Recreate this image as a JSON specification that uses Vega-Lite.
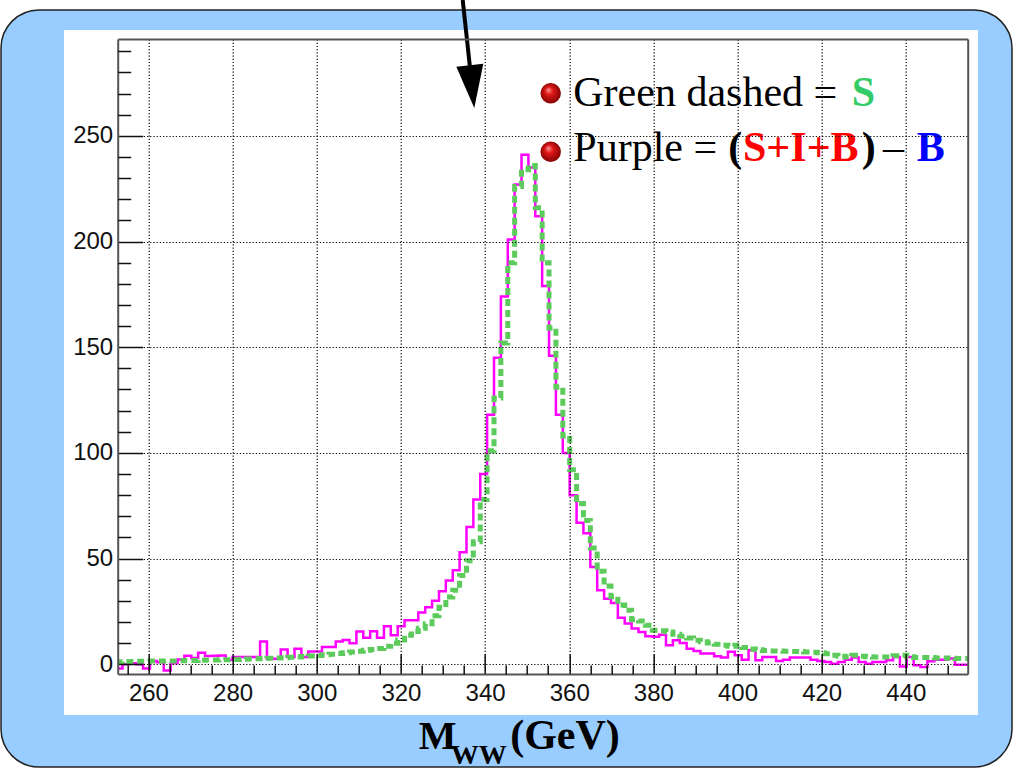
{
  "$schema": "https://vega.github.io/schema/vega-lite/v6.json",
  "width": 850,
  "height": 635,
  "autosize": {"type": "none"},
  "padding": {"left": 117.7, "top": 39, "right": 45.3, "bottom": 95},
  "background": "white",
  "config": {
    "view": {"stroke": null},
    "axis": {
      "labelFont": "Liberation Sans",
      "labelFontSize": 24,
      "labelColor": "#111111",
      "labelFlush": false,
      "labelOverlap": false,
      "tickColor": "#111111",
      "tickWidth": 1.5,
      "domainColor": "#555555",
      "domainWidth": 2,
      "gridColor": "#000000",
      "gridDash": [1.2, 2],
      "gridWidth": 1.2,
      "gridOpacity": 1,
      "titleFont": "Liberation Serif",
      "titleFontWeight": "bold",
      "titleColor": "#000000",
      "titleAlign": "left",
      "titleBaseline": "alphabetic",
      "titleAngle": 0
    }
  },
  "resolve": {"axis": {"x": "independent", "y": "independent"}},
  "datasets": {
    "outer": [{"x1": 224.97, "x2": 465.23, "y1": 309.52, "y2": -48.6}],
    "inner": [{"x1": 239.94, "x2": 457.15, "y1": 300.06, "y2": -24.0}],
    "arrow": [{"x1": 334.69, "y1": 314.25, "x2": 336.38, "y2": 283.03, "hx": 336.91, "hy": 273.28}],
    "legend": [
      {"item": "S", "gev": 360.97, "n": 264.1, "bgev": 355.6, "bn": 270.1},
      {"item": "D", "gev": 360.97, "n": 238.3, "bgev": 355.6, "bn": 242.5}
    ],
    "hist": [
      {"x": 252.20, "purple": -2, "green": 1.2},
      {"x": 253.84, "purple": 0, "green": 1.3},
      {"x": 255.47, "purple": 0.5, "green": 1.3},
      {"x": 257.11, "purple": 0, "green": 1.4},
      {"x": 258.74, "purple": -2, "green": 1.4},
      {"x": 260.38, "purple": 1.5, "green": 1.5},
      {"x": 262.01, "purple": 1, "green": 1.5},
      {"x": 263.65, "purple": -3, "green": 1.6},
      {"x": 265.28, "purple": 0.5, "green": 1.6},
      {"x": 266.92, "purple": 2.3, "green": 1.7},
      {"x": 268.55, "purple": 4, "green": 1.8},
      {"x": 270.19, "purple": 3, "green": 1.8},
      {"x": 271.82, "purple": 5.4, "green": 1.9},
      {"x": 273.46, "purple": 3.9, "green": 2.0},
      {"x": 275.09, "purple": 4, "green": 2.0},
      {"x": 276.73, "purple": 4.2, "green": 2.1},
      {"x": 278.36, "purple": 2, "green": 2.2},
      {"x": 280.00, "purple": 3.5, "green": 2.3},
      {"x": 281.63, "purple": 3.5, "green": 2.4},
      {"x": 283.27, "purple": 3.5, "green": 2.5},
      {"x": 284.90, "purple": 3.5, "green": 2.6},
      {"x": 286.54, "purple": 10.8, "green": 2.7},
      {"x": 288.17, "purple": 2.6, "green": 2.8},
      {"x": 289.81, "purple": 2.6, "green": 3.0},
      {"x": 291.44, "purple": 7, "green": 3.1},
      {"x": 293.08, "purple": 3.5, "green": 3.3},
      {"x": 294.71, "purple": 7.4, "green": 3.5},
      {"x": 296.35, "purple": 3.5, "green": 3.7},
      {"x": 297.98, "purple": 6, "green": 3.9},
      {"x": 299.62, "purple": 6, "green": 4.2},
      {"x": 301.25, "purple": 8.2, "green": 4.5},
      {"x": 302.89, "purple": 8.2, "green": 4.8},
      {"x": 304.52, "purple": 10.8, "green": 5.1},
      {"x": 306.16, "purple": 11.5, "green": 5.4},
      {"x": 307.79, "purple": 10, "green": 5.8},
      {"x": 309.43, "purple": 15.5, "green": 6.2},
      {"x": 311.06, "purple": 12.6, "green": 6.6},
      {"x": 312.70, "purple": 15.6, "green": 7.0},
      {"x": 314.33, "purple": 12.6, "green": 7.5},
      {"x": 315.97, "purple": 18, "green": 8.5},
      {"x": 317.60, "purple": 13.7, "green": 10.0},
      {"x": 319.24, "purple": 18, "green": 11.5},
      {"x": 320.87, "purple": 20.8, "green": 13.7},
      {"x": 322.51, "purple": 20.8, "green": 15.5},
      {"x": 324.14, "purple": 24.5, "green": 17},
      {"x": 325.78, "purple": 27, "green": 19.2},
      {"x": 327.41, "purple": 30, "green": 23},
      {"x": 329.05, "purple": 34.5, "green": 27},
      {"x": 330.68, "purple": 39.6, "green": 31.8},
      {"x": 332.32, "purple": 44.5, "green": 35},
      {"x": 333.95, "purple": 53, "green": 42},
      {"x": 335.59, "purple": 65, "green": 49},
      {"x": 337.22, "purple": 78, "green": 58},
      {"x": 338.86, "purple": 90, "green": 78},
      {"x": 340.49, "purple": 118, "green": 101},
      {"x": 342.13, "purple": 145, "green": 126},
      {"x": 343.76, "purple": 174, "green": 152},
      {"x": 345.40, "purple": 201, "green": 190},
      {"x": 347.03, "purple": 227, "green": 226},
      {"x": 348.67, "purple": 241, "green": 234},
      {"x": 350.30, "purple": 235, "green": 236},
      {"x": 351.94, "purple": 212, "green": 216},
      {"x": 353.57, "purple": 179, "green": 190},
      {"x": 355.21, "purple": 146, "green": 159},
      {"x": 356.84, "purple": 118, "green": 131},
      {"x": 358.48, "purple": 100, "green": 108},
      {"x": 360.11, "purple": 80, "green": 92},
      {"x": 361.75, "purple": 67, "green": 76},
      {"x": 363.38, "purple": 62, "green": 68},
      {"x": 365.02, "purple": 46, "green": 55},
      {"x": 366.65, "purple": 35, "green": 44},
      {"x": 368.29, "purple": 31, "green": 37},
      {"x": 369.92, "purple": 29, "green": 32},
      {"x": 371.56, "purple": 22, "green": 28},
      {"x": 373.19, "purple": 19.3, "green": 25.6},
      {"x": 374.83, "purple": 16.9, "green": 21.1},
      {"x": 376.46, "purple": 15.3, "green": 20.5},
      {"x": 378.10, "purple": 13.3, "green": 18.5},
      {"x": 379.73, "purple": 13, "green": 16.1},
      {"x": 381.37, "purple": 14, "green": 15.9},
      {"x": 383.00, "purple": 9, "green": 15.3},
      {"x": 384.64, "purple": 11.4, "green": 14.2},
      {"x": 386.27, "purple": 10.1, "green": 13.3},
      {"x": 387.91, "purple": 7.4, "green": 12.4},
      {"x": 389.54, "purple": 6.3, "green": 11.4},
      {"x": 391.18, "purple": 5.1, "green": 10.6},
      {"x": 392.81, "purple": 5.1, "green": 10.1},
      {"x": 394.45, "purple": 3.8, "green": 9.5},
      {"x": 396.08, "purple": 3.2, "green": 9.0},
      {"x": 397.72, "purple": 5.9, "green": 8.5},
      {"x": 399.35, "purple": 4.3, "green": 9.0},
      {"x": 400.99, "purple": 2.2, "green": 7.9},
      {"x": 402.62, "purple": 6.6, "green": 7.2},
      {"x": 404.26, "purple": 1.9, "green": 6.9},
      {"x": 405.89, "purple": 3.5, "green": 6.5},
      {"x": 407.53, "purple": 3.5, "green": 6.3},
      {"x": 409.16, "purple": 1.6, "green": 6.3},
      {"x": 410.80, "purple": 2.2, "green": 6.2},
      {"x": 412.43, "purple": 3.2, "green": 6.1},
      {"x": 414.07, "purple": 3.2, "green": 6.0},
      {"x": 415.70, "purple": 3.2, "green": 5.8},
      {"x": 417.34, "purple": 2.2, "green": 5.7},
      {"x": 418.97, "purple": 1.6, "green": 5.4},
      {"x": 420.61, "purple": 1.1, "green": 5.0},
      {"x": 422.24, "purple": 0.3, "green": 4.3},
      {"x": 423.88, "purple": 1.1, "green": 3.8},
      {"x": 425.51, "purple": 2.2, "green": 3.5},
      {"x": 427.15, "purple": 3.2, "green": 4.3},
      {"x": 428.78, "purple": 1.1, "green": 3.8},
      {"x": 430.42, "purple": 0.3, "green": 3.6},
      {"x": 432.05, "purple": 1.1, "green": 3.5},
      {"x": 433.69, "purple": 1.1, "green": 3.5},
      {"x": 435.32, "purple": 1.9, "green": 3.5},
      {"x": 436.96, "purple": 3.5, "green": 4.0},
      {"x": 438.59, "purple": -1, "green": 4.3},
      {"x": 440.23, "purple": 3.5, "green": 3.6},
      {"x": 441.86, "purple": -0.5, "green": 3.2},
      {"x": 443.50, "purple": -1.3, "green": 3.2},
      {"x": 445.13, "purple": 1.4, "green": 3.2},
      {"x": 446.77, "purple": 2.2, "green": 3.0},
      {"x": 448.40, "purple": 2.2, "green": 3.0},
      {"x": 450.04, "purple": 2.7, "green": 2.8},
      {"x": 451.67, "purple": -0.2, "green": 2.7},
      {"x": 453.31, "purple": -0.2, "green": 2.7},
      {"x": 454.94, "purple": -0.2, "green": 2.7}
    ]
  },
  "layer": [
    {
      "data": {"name": "outer"},
      "mark": {"type": "rect", "fill": "#99ccff", "stroke": "#222222", "strokeWidth": 1.5, "cornerRadius": 38, "clip": false},
      "encoding": {
        "x": {"field": "x1", "type": "quantitative", "scale": {"domain": [252.7, 454.7], "nice": false, "zero": false},
              "axis": {"orient": "top", "zindex": 1, "domain": true, "ticks": false, "labels": false, "grid": false, "title": null}},
        "x2": {"field": "x2"},
        "y": {"field": "y1", "type": "quantitative", "scale": {"domain": [-4.6, 295.8], "nice": false, "zero": false},
              "axis": {"orient": "right", "zindex": 1, "domain": true, "ticks": false, "labels": false, "grid": false, "title": null}},
        "y2": {"field": "y2"}
      }
    },
    {
      "data": {"name": "inner"},
      "mark": {"type": "rect", "fill": "#ffffff", "clip": false},
      "encoding": {
        "x": {"field": "x1", "type": "quantitative", "scale": {"domain": [252.7, 454.7], "nice": false, "zero": false},
              "axis": {"orient": "bottom", "zindex": 1, "domain": false, "ticks": false, "labels": false, "grid": false,
                       "title": "(GeV)", "titleFontSize": 42, "titleX": 392, "titleY": 74.5}},
        "x2": {"field": "x2"},
        "y": {"field": "y1", "type": "quantitative", "scale": {"domain": [-4.6, 295.8], "nice": false, "zero": false}, "axis": null},
        "y2": {"field": "y2"}
      }
    },
    {
      "data": {"name": "hist"},
      "mark": {"type": "line", "interpolate": "step-after", "color": "#ff00ff", "strokeWidth": 2.5, "clip": true},
      "encoding": {
        "x": {"field": "x", "type": "quantitative", "scale": {"domain": [252.7, 454.7], "nice": false, "zero": false},
              "axis": {"orient": "bottom", "zindex": 1, "values": [260, 280, 300, 320, 340, 360, 380, 400, 420, 440], "tickSize": -20,
                       "labelPadding": 27, "grid": true, "domain": true,
                       "title": "M", "titleFontSize": 40, "titleX": 300.5, "titleY": 74.5}},
        "y": {"field": "purple", "type": "quantitative", "scale": {"domain": [-4.6, 295.8], "nice": false, "zero": false},
              "axis": {"orient": "left", "zindex": 1, "values": [0, 50, 100, 150, 200, 250], "tickSize": -25, "labelPadding": 30,
                       "grid": true, "domain": true, "title": null}}
      }
    },
    {
      "data": {"name": "hist"},
      "mark": {"type": "line", "interpolate": "step-after", "color": "#5ccb5c", "strokeWidth": 5, "strokeDash": [7, 4], "clip": true},
      "encoding": {
        "x": {"field": "x", "type": "quantitative", "scale": {"domain": [252.7, 454.7], "nice": false, "zero": false},
              "axis": {"orient": "bottom", "zindex": 1, "values": [255, 265, 270, 275, 285, 290, 295, 305, 310, 315, 325, 330, 335, 345, 350, 355, 365, 370, 375, 385, 390, 395, 405, 410, 415, 425, 430, 435, 445, 450],
                       "tickSize": -9, "labels": false, "grid": false, "domain": false,
                       "title": "WW", "titleFontSize": 28, "titleX": 332.5, "titleY": 89.5}},
        "y": {"field": "green", "type": "quantitative", "scale": {"domain": [-4.6, 295.8], "nice": false, "zero": false},
              "axis": {"orient": "left", "zindex": 1, "values": [10, 20, 30, 40, 60, 70, 80, 90, 110, 120, 130, 140, 160, 170, 180, 190, 210, 220, 230, 240, 260, 270, 280, 290],
                       "tickSize": -13, "labels": false, "grid": false, "domain": false, "title": null}}
      }
    },
    {
      "data": {"name": "arrow"},
      "mark": {"type": "rule", "color": "#000000", "strokeWidth": 4, "clip": false},
      "encoding": {
        "x": {"field": "x1", "type": "quantitative", "scale": {"domain": [252.7, 454.7], "nice": false, "zero": false}, "axis": null},
        "x2": {"field": "x2"},
        "y": {"field": "y1", "type": "quantitative", "scale": {"domain": [-4.6, 295.8], "nice": false, "zero": false}, "axis": null},
        "y2": {"field": "y2"}
      }
    },
    {
      "data": {"name": "arrow"},
      "mark": {"type": "point", "shape": "M -0.63 -1 L 0.63 -1 L 0 1 Z", "size": 1849, "angle": -6, "filled": true, "color": "#000000", "opacity": 1, "clip": false},
      "encoding": {
        "x": {"field": "hx", "type": "quantitative", "scale": {"domain": [252.7, 454.7], "nice": false, "zero": false}, "axis": null},
        "y": {"field": "hy", "type": "quantitative", "scale": {"domain": [-4.6, 295.8], "nice": false, "zero": false}, "axis": null}
      }
    },
    {
      "data": {"name": "legend"},
      "mark": {"type": "point", "shape": "circle", "size": 420, "filled": true, "opacity": 1, "clip": false,
               "color": {"gradient": "radial", "x1": 0.38, "y1": 0.32, "r1": 0, "x2": 0.5, "y2": 0.5, "r2": 0.55,
                         "stops": [{"offset": 0, "color": "#ff9a9a"}, {"offset": 0.35, "color": "#e01818"}, {"offset": 1, "color": "#7a0000"}]}},
      "encoding": {
        "x": {"field": "bgev", "type": "quantitative", "scale": {"domain": [252.7, 454.7], "nice": false, "zero": false}, "axis": null},
        "y": {"field": "bn", "type": "quantitative", "scale": {"domain": [-4.6, 295.8], "nice": false, "zero": false}, "axis": null}
      }
    },
    {
      "data": {"name": "legend"},
      "transform": [{"filter": "datum.item === 'S'"}],
      "mark": {"type": "text", "text": "Green dashed =", "align": "left", "baseline": "alphabetic", "dx": 0, "font": "Liberation Serif", "fontSize": 42, "color": "#000000", "clip": false},
      "encoding": {
        "x": {"field": "gev", "type": "quantitative", "scale": {"domain": [252.7, 454.7], "nice": false, "zero": false}, "axis": null},
        "y": {"field": "n", "type": "quantitative", "scale": {"domain": [-4.6, 295.8], "nice": false, "zero": false}, "axis": null}
      }
    },
    {
      "data": {"name": "legend"},
      "transform": [{"filter": "datum.item === 'S'"}],
      "mark": {"type": "text", "text": "S", "align": "left", "baseline": "alphabetic", "dx": 278.4, "font": "Liberation Serif", "fontSize": 42, "fontWeight": "bold", "color": "#33cc66", "clip": false},
      "encoding": {
        "x": {"field": "gev", "type": "quantitative", "scale": {"domain": [252.7, 454.7], "nice": false, "zero": false}, "axis": null},
        "y": {"field": "n", "type": "quantitative", "scale": {"domain": [-4.6, 295.8], "nice": false, "zero": false}, "axis": null}
      }
    },
    {
      "data": {"name": "legend"},
      "transform": [{"filter": "datum.item === 'D'"}],
      "mark": {"type": "text", "text": "Purple =", "align": "left", "baseline": "alphabetic", "dx": 0, "font": "Liberation Serif", "fontSize": 42, "color": "#000000", "clip": false},
      "encoding": {
        "x": {"field": "gev", "type": "quantitative", "scale": {"domain": [252.7, 454.7], "nice": false, "zero": false}, "axis": null},
        "y": {"field": "n", "type": "quantitative", "scale": {"domain": [-4.6, 295.8], "nice": false, "zero": false}, "axis": null}
      }
    },
    {
      "data": {"name": "legend"},
      "transform": [{"filter": "datum.item === 'D'"}],
      "mark": {"type": "text", "text": "(", "align": "left", "baseline": "alphabetic", "dx": 155, "font": "Liberation Serif", "fontSize": 42, "fontWeight": "bold", "color": "#000000", "clip": false},
      "encoding": {
        "x": {"field": "gev", "type": "quantitative", "scale": {"domain": [252.7, 454.7], "nice": false, "zero": false}, "axis": null},
        "y": {"field": "n", "type": "quantitative", "scale": {"domain": [-4.6, 295.8], "nice": false, "zero": false}, "axis": null}
      }
    },
    {
      "data": {"name": "legend"},
      "transform": [{"filter": "datum.item === 'D'"}],
      "mark": {"type": "text", "text": "S+I+B", "align": "left", "baseline": "alphabetic", "dx": 169.7, "font": "Liberation Serif", "fontSize": 42, "fontWeight": "bold", "color": "#ff0000", "clip": false},
      "encoding": {
        "x": {"field": "gev", "type": "quantitative", "scale": {"domain": [252.7, 454.7], "nice": false, "zero": false}, "axis": null},
        "y": {"field": "n", "type": "quantitative", "scale": {"domain": [-4.6, 295.8], "nice": false, "zero": false}, "axis": null}
      }
    },
    {
      "data": {"name": "legend"},
      "transform": [{"filter": "datum.item === 'D'"}],
      "mark": {"type": "text", "text": ")", "align": "left", "baseline": "alphabetic", "dx": 288.4, "font": "Liberation Serif", "fontSize": 42, "fontWeight": "bold", "color": "#000000", "clip": false},
      "encoding": {
        "x": {"field": "gev", "type": "quantitative", "scale": {"domain": [252.7, 454.7], "nice": false, "zero": false}, "axis": null},
        "y": {"field": "n", "type": "quantitative", "scale": {"domain": [-4.6, 295.8], "nice": false, "zero": false}, "axis": null}
      }
    },
    {
      "data": {"name": "legend"},
      "transform": [{"filter": "datum.item === 'D'"}],
      "mark": {"type": "text", "text": "–", "align": "left", "baseline": "alphabetic", "dx": 309.7, "font": "Liberation Serif", "fontSize": 42, "color": "#000000", "clip": false},
      "encoding": {
        "x": {"field": "gev", "type": "quantitative", "scale": {"domain": [252.7, 454.7], "nice": false, "zero": false}, "axis": null},
        "y": {"field": "n", "type": "quantitative", "scale": {"domain": [-4.6, 295.8], "nice": false, "zero": false}, "axis": null}
      }
    },
    {
      "data": {"name": "legend"},
      "transform": [{"filter": "datum.item === 'D'"}],
      "mark": {"type": "text", "text": "B", "align": "left", "baseline": "alphabetic", "dx": 343.4, "font": "Liberation Serif", "fontSize": 42, "fontWeight": "bold", "color": "#0000ff", "clip": false},
      "encoding": {
        "x": {"field": "gev", "type": "quantitative", "scale": {"domain": [252.7, 454.7], "nice": false, "zero": false}, "axis": null},
        "y": {"field": "n", "type": "quantitative", "scale": {"domain": [-4.6, 295.8], "nice": false, "zero": false}, "axis": null}
      }
    }
  ]
}
